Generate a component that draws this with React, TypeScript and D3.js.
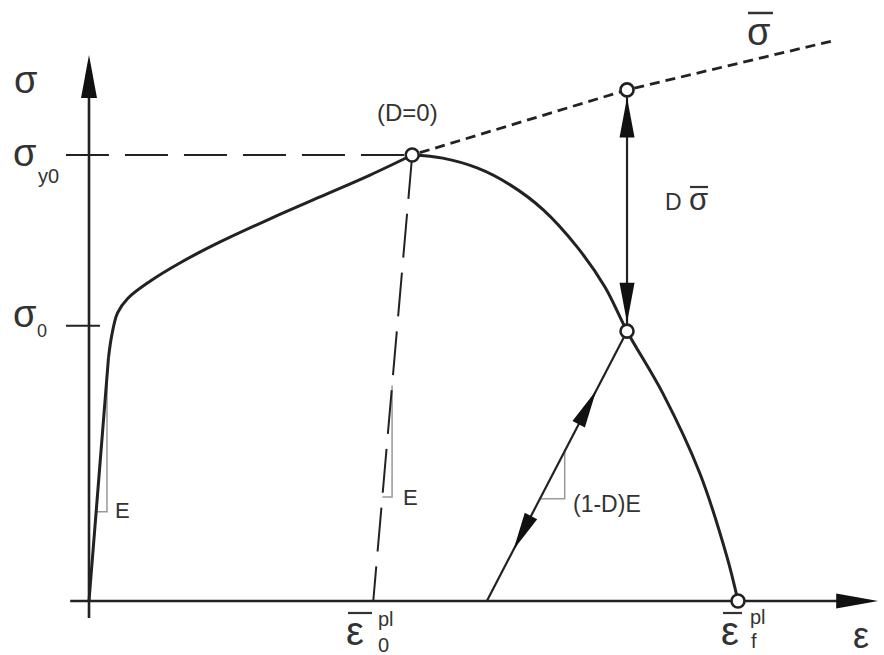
import React from "react";
import * as d3 from "d3";

// Data units: strain ε (0..100, 100 = ε_f^pl), stress σ (0..100, 100 = σ_y0)
const loadingCurve: [number, number][] = [
  [0, 0], [3.0, 54.5], [3.5, 59.5], [4.4, 64.6], [6.0, 67.9], [9.4, 71.7],
  [14.0, 75.8], [20.2, 80.5], [27.9, 85.7], [35.6, 90.6], [43.3, 95.5], [49.8, 100],
];
const softeningCurve: [number, number][] = [
  [49.8, 100], [54.5, 99.3], [59.8, 97.1], [64.9, 93.3], [70.0, 87.7], [75.2, 79.4],
  [79.5, 70.4], [82.9, 60.5], [88.4, 46.6], [94.1, 28.7], [98.3, 9.9], [100, 0],
];
const effectiveStressLine: [number, number][] = [[49.8, 100], [82.9, 114.6], [114.6, 125.6]];
const peakPoint: [number, number] = [49.8, 100];
const damagedPoint: [number, number] = [82.9, 60.5];
const effectivePoint: [number, number] = [82.9, 114.6];
const failurePoint: [number, number] = [100, 0];
const eps0pl = 43.8;
const damagedFoot = 61.3;
const sigmaY0 = 100;
const sigma0 = 61.7;
const xAxisExtent = [-2.9, 121.6];
const yAxisExtent = [-3.8, 122.4];
const tickStart = -3.55;
const sigma0TickEnd = 1.7;
const slopeTriangleBottoms = [20, 23.3, 22.9]; // σ at horizontal leg
const slopeTriangleRight = [2.77, 46.7, 73.3]; // ε of vertical leg
const unloadArrowTips = [0.78, 0.19];
const labelE = "E";
const labelDamagedE = "(1-D)E";
const labelD0 = "(D=0)";

const ink = "#222";
const textInk = "#333";
const font = "'Liberation Sans', Arial, sans-serif";

function arrowHead(tip: [number, number], dir: [number, number], L = 40, w = 7.5) {
  const len = Math.hypot(dir[0], dir[1]);
  const dx = dir[0] / len, dy = dir[1] / len;
  const bx = tip[0] - L * dx, by = tip[1] - L * dy;
  const nx = -dy, ny = dx;
  return `M${tip[0]},${tip[1]}L${bx + w * nx},${by + w * ny}L${bx - w * nx},${by - w * ny}Z`;
}

export default function App() {
  const x = d3.scaleLinear().domain([0, 100]).range([89, 738]);
  const y = d3.scaleLinear().domain([0, 100]).range([601, 155]);
  const line = d3.line<[number, number]>().x((d) => x(d[0])).y((d) => y(d[1]));
  const curve = d3
    .line<[number, number]>()
    .x((d) => x(d[0]))
    .y((d) => y(d[1]))
    .curve(d3.curveCatmullRom.alpha(0.5));

  const r = 6.5;
  const elasticB: [number, number] = loadingCurve[1];
  const elasticAt = (s: number) => (s / elasticB[1]) * elasticB[0];
  const unloadA: [number, number] = [eps0pl, 0];
  const unloadAt = (s: number) => eps0pl + (s / peakPoint[1]) * (peakPoint[0] - eps0pl);
  const dmgAt = (s: number) => damagedFoot + (s / damagedPoint[1]) * (damagedPoint[0] - damagedFoot);
  const sigmaOnLine = (fn: (s: number) => number, e: number) => {
    const e0 = fn(0), e1 = fn(100);
    return ((e - e0) / (e1 - e0)) * 100;
  };
  const tris = [elasticAt, unloadAt, dmgAt].map((fn, i) => {
    const sb = slopeTriangleBottoms[i];
    const er = slopeTriangleRight[i];
    const st = sigmaOnLine(fn, er);
    return `M${x(fn(sb))},${y(sb)}L${x(er)},${y(sb)}L${x(er)},${y(st)}`;
  });

  const fx = x(damagedFoot), fy = y(0);
  const dxp = x(damagedPoint[0]), dyp = y(damagedPoint[1]);
  const upT = unloadArrowTips[0], dnT = unloadArrowTips[1];
  const upTip: [number, number] = [fx + (dxp - fx) * upT, fy + (dyp - fy) * upT];
  const dnTip: [number, number] = [fx + (dxp - fx) * dnT, fy + (dyp - fy) * dnT];

  const vx = x(effectivePoint[0]);
  const vTop = y(effectivePoint[1]);
  const vBot = y(damagedPoint[1]);

  // loading: straight elastic segment + smooth hardening curve
  const elasticPath = line([loadingCurve[0], loadingCurve[1]])!;
  const hardeningPath = curve(loadingCurve.slice(1))!;

  return (
    <div style={{ position: "absolute", left: 0, top: 0 }}>
      <svg width={884} height={655} style={{ display: "block", background: "#fff" }}>
        {/* axes */}
        <line x1={x(0)} x2={x(0)} y1={y(yAxisExtent[0])} y2={y(yAxisExtent[1]) + 30} stroke={ink} strokeWidth={2.6} />
        <path d={arrowHead([x(0), y(yAxisExtent[1])], [0, -1], 43, 8)} fill="#111" />
        <line x1={x(xAxisExtent[0])} x2={x(xAxisExtent[1]) - 30} y1={y(0)} y2={y(0)} stroke={ink} strokeWidth={2.6} />
        <path d={arrowHead([x(xAxisExtent[1]), y(0)], [1, 0], 42, 7.5)} fill="#111" />

        {/* ticks */}
        <line x1={x(tickStart)} x2={x(sigma0TickEnd)} y1={y(sigma0)} y2={y(sigma0)} stroke={ink} strokeWidth={2} />
        <line
          x1={x(tickStart)} x2={x(peakPoint[0]) - r}
          y1={y(sigmaY0)} y2={y(sigmaY0)}
          stroke={ink} strokeWidth={2} strokeDasharray="43 16"
        />

        {/* slope triangles */}
        {tris.map((d, i) => (
          <path key={i} d={d} fill="none" stroke="#999" strokeWidth={1.5} />
        ))}

        {/* elastic unloading dashed line */}
        <path d={line([peakPoint, unloadA])!} fill="none" stroke={ink} strokeWidth={2} strokeDasharray="44 15" />

        {/* effective stress dotted line */}
        <path d={line(effectiveStressLine)!} fill="none" stroke={ink} strokeWidth={2.8} strokeDasharray="10 6" strokeDashoffset={-8} />

        {/* damaged unloading line */}
        <path d={line([[damagedFoot, 0], damagedPoint])!} fill="none" stroke={ink} strokeWidth={2.2} />
        <path d={arrowHead(upTip, [dxp - fx, dyp - fy], 38, 7)} fill="#111" />
        <path d={arrowHead(dnTip, [fx - dxp, fy - dyp], 38, 7)} fill="#111" />

        {/* D sigma-bar vertical arrow */}
        <line x1={vx} x2={vx} y1={vTop + r} y2={vBot - r} stroke={ink} strokeWidth={2.2} />
        <path d={arrowHead([vx, vTop + r + 1], [0, -1], 40, 7.5)} fill="#111" />
        <path d={arrowHead([vx, vBot - r - 2], [0, 1], 40, 7.5)} fill="#111" />

        {/* main curve */}
        <path d={elasticPath} fill="none" stroke={ink} strokeWidth={3} />
        <path d={hardeningPath} fill="none" stroke={ink} strokeWidth={3} strokeLinejoin="round" />
        <path d={curve(softeningCurve)!} fill="none" stroke={ink} strokeWidth={3} />

        {/* circles */}
        {[peakPoint, effectivePoint, damagedPoint, failurePoint].map((p, i) => (
          <circle key={i} cx={x(p[0])} cy={y(p[1])} r={r} fill="#fff" stroke={ink} strokeWidth={2.6} />
        ))}

        {/* labels */}
        <g fill={textInk} fontFamily={font}>
          <text x={14} y={93} fontSize={38}>σ</text>
          <text x={13} y={166} fontSize={38}>σ</text>
          <text x={38} y={183} fontSize={20}>y0</text>
          <text x={13} y={327} fontSize={38}>σ</text>
          <text x={37} y={337} fontSize={18}>0</text>

          <text x={377} y={121} fontSize={24}>{labelD0}</text>

          <text x={747} y={45} fontSize={38}>σ</text>
          <line x1={748} x2={773} y1={13} y2={13} stroke={textInk} strokeWidth={2.5} />

          <text x={665} y={210} fontSize={23}>D</text>
          <text x={689} y={210} fontSize={31}>σ</text>
          <line x1={690} x2={708} y1={187} y2={187} stroke={textInk} strokeWidth={2.2} />

          <text x={115} y={518} fontSize={22}>{labelE}</text>
          <text x={403} y={505} fontSize={22}>{labelE}</text>
          <text x={573} y={512} fontSize={23}>{labelDamagedE}</text>

          <text x={346} y={645} fontSize={40}>ε</text>
          <line x1={348} x2={372} y1={613} y2={613} stroke={textInk} strokeWidth={2.2} />
          <text x={378} y={626} fontSize={20}>pl</text>
          <text x={378} y={652} fontSize={20}>0</text>

          <text x={721} y={645} fontSize={40}>ε</text>
          <line x1={723} x2={742} y1={613} y2={613} stroke={textInk} strokeWidth={2.2} />
          <text x={750} y={624} fontSize={20}>pl</text>
          <text x={751} y={648} fontSize={20}>f</text>

          <text x={853} y={648} fontSize={36}>ε</text>
        </g>
      </svg>
    </div>
  );
}
